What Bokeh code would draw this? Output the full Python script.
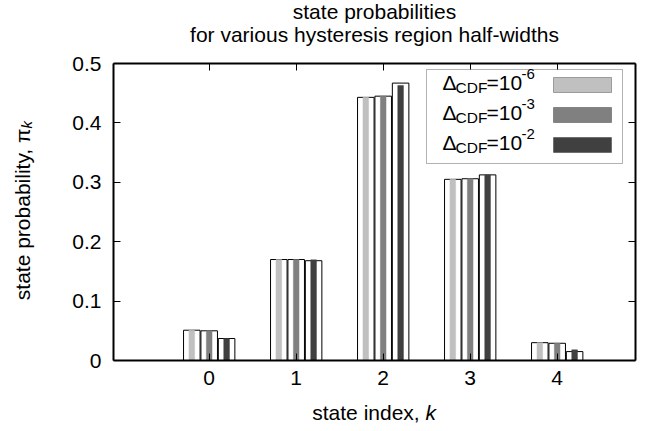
import math
from bokeh.plotting import figure
from bokeh.models import Range1d, FixedTicker, LinearAxis, Label, BoxAnnotation, ColumnDataSource
from bokeh.transform import dodge
from bokeh.embed import file_html
from bokeh.resources import INLINE

# ---------------- data ----------------
states = [0, 1, 2, 3, 4]
x_tick_labels = ["0", "1", "2", "3", "4"]
y_ticks = [0, 0.1, 0.2, 0.3, 0.4, 0.5]
y_tick_labels = ["0", "0.1", "0.2", "0.3", "0.4", "0.5"]
cdf_exponents = ["-6", "-3", "-2"]

# outlined (white) bars
bar_cdf_1e6 = [0.051, 0.170, 0.443, 0.305, 0.030]
bar_cdf_1e3 = [0.050, 0.170, 0.445, 0.306, 0.029]
bar_cdf_1e2 = [0.037, 0.168, 0.467, 0.3125, 0.015]
# narrow shaded bars
fill_cdf_1e6 = [0.051, 0.170, 0.443, 0.305, 0.030]
fill_cdf_1e3 = [0.050, 0.170, 0.445, 0.306, 0.029]
fill_cdf_1e2 = [0.037, 0.1695, 0.463, 0.3125, 0.018]

colors = ["#c0c0c0", "#808080", "#404040"]
offsets = [-0.2, 0.0, 0.2]

# ---------------- layout ----------------
FONT = "Liberation Sans"
FS = "21px"
W, H = 640, 431
FL, FR, FT, FB = 113, 635, 63, 360      # plot box edges in canvas pixels
X0, X1 = -1.1, 4.9                      # plot box data limits
Y0, Y1 = 0.0, 0.5
SX = (FR - FL) / (X1 - X0)
SY = (FB - FT) / (Y1 - Y0)
BASE_FIX = 7                            # label baseline correction (px)

def xd(px):
    return X0 + (px - FL) / SX

def yd(py):
    return Y0 + (FB - py) / SY

src = ColumnDataSource(dict(
    k=states,
    b0=bar_cdf_1e6, b1=bar_cdf_1e3, b2=bar_cdf_1e2,
    f0=fill_cdf_1e6, f1=fill_cdf_1e3, f2=fill_cdf_1e2,
))

p = figure(width=W, height=H, output_backend="svg", toolbar_location=None,
           x_range=Range1d(xd(0), xd(W)), y_range=Range1d(yd(H), yd(0)),
           x_axis_location=None, y_axis_location=None,
           min_border=0)
p.grid.visible = False
p.outline_line_color = None
p.background_fill_color = "white"
p.border_fill_color = "white"

def style_axis(ax):
    ax.axis_line_color = "black"
    ax.axis_line_width = 2
    ax.major_tick_in = 7
    ax.major_tick_out = 0
    ax.minor_tick_line_color = None
    ax.major_tick_line_color = "black"
    ax.major_tick_line_width = 1
    ax.major_label_text_font = FONT
    ax.major_label_text_font_size = FS
    ax.major_label_text_color = "black"

xb = LinearAxis(ticker=FixedTicker(ticks=states), fixed_location=Y0, bounds=(X0, X1),
                major_label_overrides={s: l for s, l in zip(states, x_tick_labels)})
style_axis(xb)
xb.major_label_standoff = 10
p.add_layout(xb, "below")

xt = LinearAxis(ticker=FixedTicker(ticks=states), fixed_location=Y1, bounds=(X0, X1),
                major_label_overrides={s: "" for s in states})
style_axis(xt)
p.add_layout(xt, "above")

yl = LinearAxis(ticker=FixedTicker(ticks=y_ticks), fixed_location=X0, bounds=(Y0, Y1),
                major_label_overrides={t: l for t, l in zip(y_ticks, y_tick_labels)})
style_axis(yl)
yl.major_label_standoff = 12
p.add_layout(yl, "left")

yr = LinearAxis(ticker=FixedTicker(ticks=y_ticks), fixed_location=X1, bounds=(Y0, Y1),
                major_label_overrides={t: "" for t in y_ticks})
style_axis(yr)
p.add_layout(yr, "right")

# bars
for i, (bcol, fcol) in enumerate([("b0", "f0"), ("b1", "f1"), ("b2", "f2")]):
    p.vbar(x=dodge("k", offsets[i]), top=bcol, bottom=0, width=0.19, source=src,
           fill_color="white", line_color="black", line_width=1)
    p.vbar(x=dodge("k", offsets[i]), top=fcol, bottom=0, width=0.065, source=src,
           fill_color=colors[i], line_color=colors[i], line_width=0.5)

def lab(px, py, text, size=FS, align="left", italic=False, angle=0.0):
    if angle:
        px -= BASE_FIX
    else:
        py -= BASE_FIX
    p.add_layout(Label(x=xd(px), y=yd(py), text=text, text_font=FONT,
                       text_font_size=size, text_align=align,
                       text_baseline="alphabetic", text_color="black",
                       text_font_style="italic" if italic else "normal",
                       angle=angle))

# title
lab(374, 18, "state probabilities", align="center")
lab(374, 41, "for various hysteresis region half-widths", align="center")

# x label
lab(425, 419, "state index, ", align="right")
lab(425, 419, "k", italic=True)

# y label (rotated)
lab(29, 128, "state probability, \u03c0", align="right", angle=math.pi / 2)
lab(33, 128, "k", size="15px", italic=True, angle=math.pi / 2)

# legend
p.add_layout(BoxAnnotation(left=xd(426), right=xd(622), top=yd(69), bottom=yd(163),
                           fill_color="white", fill_alpha=1.0,
                           line_color="black", line_width=1))
row_base = [89, 119, 149]
for i, yb in enumerate(row_base):
    p.add_layout(BoxAnnotation(left=xd(553), right=xd(611), top=yd(yb - 12), bottom=yd(yb + 3),
                               fill_color=colors[i], fill_alpha=1.0,
                               line_color="black", line_width=1))
    lab(442, yb, "\u0394")
    lab(455, yb + 5, "CDF", size="15.5px")
    lab(486, yb, "=10")
    lab(521, yb - 9, cdf_exponents[i], size="15px")

open("out.html", "w").write(file_html(p, INLINE))
